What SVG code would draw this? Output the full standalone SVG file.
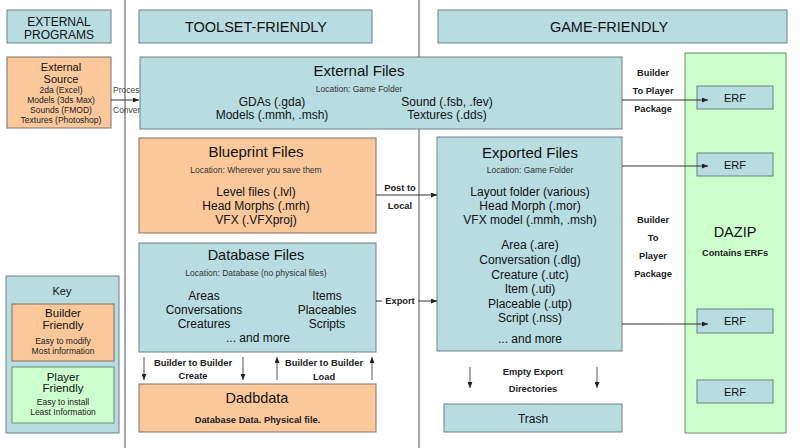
<svg xmlns="http://www.w3.org/2000/svg" width="800" height="448" viewBox="0 0 800 448">
<style>
text{font-family:"Liberation Sans",Arial,sans-serif;fill:#111;text-anchor:middle}
.teal{fill:#b7dde1;stroke:#6a8185;stroke-width:1}
.org{fill:#fbc89c;stroke:#7d7168;stroke-width:1}
.grn{fill:#ccffcc;stroke:#6f8a70;stroke-width:1}
.hdr{font-size:14.5px}
.hdr2{font-size:12px}
.ttl{font-size:15px}
.itm{font-size:12px}
.loc{font-size:8.5px;fill:#333}
.sm{font-size:8.5px;fill:#222}
.lbl{font-size:9.3px;font-weight:bold;fill:#222}
.erf{font-size:11px}
.con{stroke:#333;stroke-width:1;fill:none}
.div{stroke:#8a8a8a;stroke-width:1.5}
</style>
<defs>
<marker id="ah" markerWidth="6" markerHeight="5" refX="6" refY="2.5" orient="auto" markerUnits="userSpaceOnUse">
<path d="M0,0 L6,2.5 L0,5 z" fill="#222"/>
</marker>
</defs>
<rect x="0" y="0" width="800" height="448" fill="#ffffff"/>
<g id="dividers">
<line class="div" x1="125" y1="0" x2="125" y2="448"/>
<line class="div" x1="419" y1="0" x2="419" y2="448"/>
</g>
<g id="process-label">
<text class="sm" x="113" y="93" style="text-anchor:start;fill:#444">Process</text>
<text class="sm" x="113" y="113" style="text-anchor:start;fill:#444">Convert</text>
</g>
<g id="hdr-external">
<rect class="teal" x="7" y="10" width="104" height="33"/>
<text class="hdr2" x="59" y="25.5">EXTERNAL</text>
<text class="hdr2" x="59" y="39">PROGRAMS</text>
</g>
<g id="hdr-toolset">
<rect class="teal" x="139" y="10" width="233" height="33"/>
<text class="hdr" x="256" y="32">TOOLSET-FRIENDLY</text>
</g>
<g id="hdr-game">
<rect class="teal" x="438" y="10" width="349" height="33"/>
<text class="hdr" x="609" y="32">GAME-FRIENDLY</text>
</g>
<g id="external-source">
<rect class="org" x="7" y="57" width="104" height="71"/>
<text class="hdr2" x="61" y="70.5" style="font-size:11px">External</text>
<text class="hdr2" x="61" y="82.5" style="font-size:11px">Source</text>
<text class="sm" x="61" y="93">2da (Excel)</text>
<text class="sm" x="61" y="103">Models (3ds Max)</text>
<text class="sm" x="61" y="113">Sounds (FMOD)</text>
<text class="sm" x="61" y="122.5">Textures (Photoshop)</text>
</g>
<g id="external-files">
<rect class="teal" x="140" y="57" width="482" height="72"/>
<text class="ttl" x="359" y="76">External Files</text>
<text class="loc" x="359" y="92">Location: Game Folder</text>
<text class="itm" x="272" y="106">GDAs (.gda)</text>
<text class="itm" x="272" y="119">Models (.mmh, .msh)</text>
<text class="itm" x="447" y="106">Sound (.fsb, .fev)</text>
<text class="itm" x="447" y="119">Textures (.dds)</text>
</g>
<g id="blueprint-files">
<rect class="org" x="139" y="138" width="237" height="95"/>
<text class="ttl" x="256" y="156.5">Blueprint Files</text>
<text class="loc" x="256" y="173">Location: Wherever you save them</text>
<text class="itm" x="256" y="196">Level files (.lvl)</text>
<text class="itm" x="256" y="210">Head Morphs (.mrh)</text>
<text class="itm" x="256" y="224">VFX (.VFXproj)</text>
</g>
<g id="database-files">
<rect class="teal" x="139" y="243" width="237" height="109"/>
<text class="ttl" x="256" y="260" style="font-size:14.5px">Database Files</text>
<text class="loc" x="256" y="276">Location: Database (no physical files)</text>
<text class="itm" x="204" y="300">Areas</text>
<text class="itm" x="204" y="314">Conversations</text>
<text class="itm" x="204" y="327.5">Creatures</text>
<text class="itm" x="327" y="300">Items</text>
<text class="itm" x="327" y="314">Placeables</text>
<text class="itm" x="327" y="327.5">Scripts</text>
<text class="itm" x="258" y="342">... and more</text>
</g>
<g id="dadbdata">
<rect class="org" x="139" y="384" width="237" height="48"/>
<text class="ttl" x="257" y="403" style="font-size:14.5px">Dadbdata</text>
<text class="lbl" x="257.5" y="422.5">Database Data. Physical file.</text>
</g>
<g id="exported-files">
<rect class="teal" x="437" y="137" width="185" height="214"/>
<text class="ttl" x="530" y="157.5">Exported Files</text>
<text class="loc" x="530" y="173">Location: Game Folder</text>
<text class="itm" x="530" y="196">Layout folder (various)</text>
<text class="itm" x="530" y="210">Head Morph (.mor)</text>
<text class="itm" x="530" y="224">VFX model (.mmh, .msh)</text>
<text class="itm" x="530" y="249">Area (.are)</text>
<text class="itm" x="530" y="263.5">Conversation (.dlg)</text>
<text class="itm" x="530" y="278.5">Creature (.utc)</text>
<text class="itm" x="530" y="293">Item (.uti)</text>
<text class="itm" x="530" y="307.5">Placeable (.utp)</text>
<text class="itm" x="530" y="322">Script (.nss)</text>
<text class="itm" x="530" y="343">... and more</text>
</g>
<g id="trash">
<rect class="teal" x="444" y="404" width="178" height="28"/>
<text class="itm" x="533" y="422.5">Trash</text>
</g>
<g id="dazip">
<rect class="grn" x="685" y="53" width="101" height="380"/>
<text class="ttl" x="735" y="237" style="font-size:14.5px">DAZIP</text>
<text class="lbl" x="735" y="256">Contains ERFs</text>
</g>
<g id="erf1"><rect class="teal" x="697" y="86" width="76" height="23"/><text class="erf" x="735" y="101.5">ERF</text></g>
<g id="erf2"><rect class="teal" x="697" y="153" width="76" height="23"/><text class="erf" x="735" y="168.5">ERF</text></g>
<g id="erf3"><rect class="teal" x="697" y="309" width="76" height="24"/><text class="erf" x="735" y="325">ERF</text></g>
<g id="erf4"><rect class="teal" x="697" y="380" width="76" height="23"/><text class="erf" x="735" y="395.5">ERF</text></g>
<g id="key">
<rect class="teal" x="6" y="276" width="113" height="157"/>
<text class="hdr2" x="62" y="295" style="font-size:11px">Key</text>
<rect class="org" x="12" y="304" width="102" height="57"/>
<text class="hdr2" x="63" y="317" style="font-size:11.5px">Builder</text>
<text class="hdr2" x="63" y="329" style="font-size:11.5px">Friendly</text>
<text class="sm" x="63" y="344">Easy to modify</text>
<text class="sm" x="63" y="353.5">Most information</text>
<rect class="grn" x="12" y="367" width="102" height="56"/>
<text class="hdr2" x="63" y="381" style="font-size:11.5px">Player</text>
<text class="hdr2" x="63" y="391.5" style="font-size:11.5px">Friendly</text>
<text class="sm" x="63" y="405">Easy to install</text>
<text class="sm" x="63" y="415">Least Information</text>
</g>
<g id="connectors">
<line class="con" x1="111" y1="100" x2="139" y2="100" marker-end="url(#ah)"/>
<line class="con" x1="622" y1="100" x2="708" y2="100" marker-end="url(#ah)"/>
<line class="con" x1="622" y1="166" x2="708" y2="166" marker-end="url(#ah)"/>
<line class="con" x1="622" y1="324" x2="708" y2="324" marker-end="url(#ah)"/>
<line class="con" x1="376" y1="195" x2="437" y2="195" marker-end="url(#ah)"/>
<line class="con" x1="376" y1="301" x2="437" y2="301" marker-end="url(#ah)"/>
<line class="con" x1="144" y1="357" x2="144" y2="380" marker-end="url(#ah)" style="stroke:#555"/>
<line class="con" x1="243" y1="357" x2="243" y2="380" marker-end="url(#ah)" style="stroke:#555"/>
<line class="con" x1="277" y1="380" x2="277" y2="357" marker-end="url(#ah)" style="stroke:#555"/>
<line class="con" x1="372" y1="380" x2="372" y2="357" marker-end="url(#ah)" style="stroke:#555"/>
<line class="con" x1="470" y1="367" x2="470" y2="388" marker-end="url(#ah)" style="stroke:#555"/>
<line class="con" x1="597" y1="367" x2="597" y2="388" marker-end="url(#ah)" style="stroke:#555"/>
<text class="lbl" x="653" y="75.5">Builder</text>
<text class="lbl" x="653" y="93.5">To Player</text>
<text class="lbl" x="653" y="111.5">Package</text>
<text class="lbl" x="653" y="222.5">Builder</text>
<text class="lbl" x="653" y="240.5">To</text>
<text class="lbl" x="653" y="259">Player</text>
<text class="lbl" x="653" y="276.5">Package</text>
<text class="lbl" x="400" y="190.5">Post to</text>
<text class="lbl" x="400" y="208.5">Local</text>
<rect x="382" y="293" width="36" height="14" fill="#ffffff"/>
<text class="lbl" x="400" y="303.5">Export</text>
<text class="lbl" x="193" y="365.5">Builder to Builder</text>
<text class="lbl" x="193" y="379">Create</text>
<text class="lbl" x="324" y="365.5">Builder to Builder</text>
<text class="lbl" x="324" y="379.5">Load</text>
<text class="lbl" x="533" y="374.5">Empty Export</text>
<text class="lbl" x="533" y="391.5">Directories</text>
</g>
</svg>
